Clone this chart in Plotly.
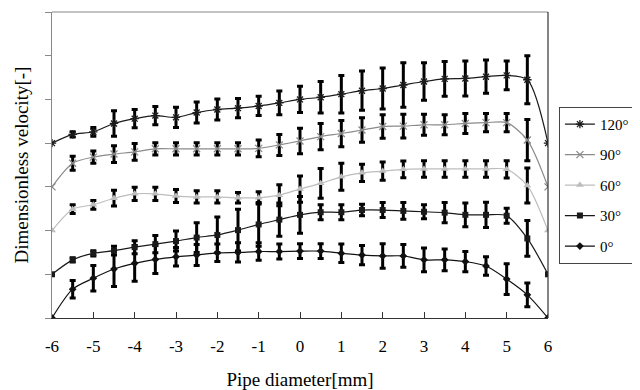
import plotly.graph_objects as go

# Pipe diameter positions [mm]
x_mm = [-6, -5.5, -5, -4.5, -4, -3.5, -3, -2.5, -2, -1.5, -1, -0.5, 0,
        0.5, 1, 1.5, 2, 2.5, 3, 3.5, 4, 4.5, 5, 5.5, 6]
x_ticks = [-6, -5, -4, -3, -2, -1, 0, 1, 2, 3, 4, 5, 6]
x_tick_labels = ["-6", "-5", "-4", "-3", "-2", "-1", "0", "1", "2", "3", "4", "5", "6"]

# Dimensionless velocity (each series offset in the original chart)
v_120 = [4.0, 4.20, 4.26, 4.45, 4.56, 4.63, 4.59, 4.70, 4.77, 4.80, 4.85, 4.92, 5.00,
         5.05, 5.12, 5.20, 5.25, 5.33, 5.41, 5.47, 5.48, 5.52, 5.55, 5.45, 4.0]
v_90 = [3.0, 3.54, 3.68, 3.75, 3.80, 3.87, 3.87, 3.87, 3.87, 3.87, 3.88, 3.96, 4.05,
        4.15, 4.22, 4.30, 4.38, 4.39, 4.42, 4.42, 4.45, 4.47, 4.47, 4.07, 3.0]
v_60 = [2.0, 2.49, 2.59, 2.74, 2.84, 2.84, 2.79, 2.77, 2.77, 2.75, 2.75, 2.81, 2.95,
        3.08, 3.23, 3.32, 3.36, 3.40, 3.41, 3.41, 3.41, 3.41, 3.40, 3.03, 2.0]
v_30 = [1.0, 1.33, 1.48, 1.54, 1.62, 1.69, 1.76, 1.84, 1.90, 2.01, 2.14, 2.25, 2.36,
        2.42, 2.42, 2.47, 2.47, 2.45, 2.43, 2.41, 2.36, 2.36, 2.34, 1.82, 1.0]
v_0 = [0.0, 0.66, 0.91, 1.12, 1.25, 1.34, 1.40, 1.44, 1.49, 1.50, 1.52, 1.52, 1.53,
       1.53, 1.48, 1.44, 1.42, 1.42, 1.33, 1.33, 1.29, 1.19, 0.89, 0.53, 0.0]

# Error bar half-lengths for interior points (x = -5.5 ... 5.5)
e_120 = [0.06, 0.10, 0.29, 0.21, 0.21, 0.23, 0.24, 0.24, 0.22, 0.22, 0.27, 0.30,
         0.36, 0.43, 0.45, 0.47, 0.51, 0.43, 0.40, 0.40, 0.38, 0.33, 0.55]
e_90 = [0.16, 0.14, 0.19, 0.19, 0.14, 0.14, 0.14, 0.14, 0.14, 0.19, 0.24, 0.29,
        0.30, 0.30, 0.28, 0.27, 0.27, 0.24, 0.23, 0.23, 0.21, 0.21, 0.47]
e_60 = [0.10, 0.10, 0.18, 0.15, 0.15, 0.15, 0.14, 0.14, 0.12, 0.14, 0.24, 0.30,
        0.34, 0.31, 0.20, 0.21, 0.19, 0.19, 0.19, 0.19, 0.19, 0.20, 0.40]
e_30 = [0.05, 0.06, 0.10, 0.15, 0.20, 0.23, 0.34, 0.41, 0.48, 0.50, 0.38, 0.42,
        0.17, 0.17, 0.13, 0.17, 0.19, 0.16, 0.23, 0.27, 0.29, 0.17, 0.41]
e_0 = [0.20, 0.29, 0.40, 0.41, 0.32, 0.21, 0.24, 0.20, 0.22, 0.20, 0.17, 0.17,
       0.17, 0.21, 0.22, 0.28, 0.26, 0.27, 0.25, 0.23, 0.21, 0.35, 0.27]

names = ["120°", "90°", "60°", "30°", "0°"]
values = [v_120, v_90, v_60, v_30, v_0]
errors = [e_120, e_90, e_60, e_30, e_0]
colors = ["#1a1a1a", "#8a8a8a", "#bdbdbd", "#1a1a1a", "#111111"]
symbols = ["asterisk-open", "x-thin-open", "triangle-up", "square", "diamond"]
msizes = [7, 7, 7, 6, 6]

FONT = "Liberation Serif, Times New Roman, serif"
fig = go.Figure()

# error bars (interior points only)
for vals, errs in zip(values, errors):
    fig.add_trace(go.Scatter(
        x=x_mm[1:-1], y=vals[1:-1], mode="markers",
        marker=dict(size=1, color="rgba(0,0,0,0)"),
        error_y=dict(type="data", array=errs, visible=True,
                     color="black", thickness=3, width=3),
        showlegend=False, hoverinfo="skip"))

# lines with markers
for i, (nm, vals) in enumerate(zip(names, values)):
    sym = symbols[i]
    if sym.endswith("open"):
        mk = dict(symbol=sym, size=msizes[i], color=colors[i],
                  line=dict(color=colors[i], width=1.3))
    else:
        mk = dict(symbol=sym, size=msizes[i], color=colors[i],
                  line=dict(width=0))
    fig.add_trace(go.Scatter(
        x=x_mm, y=vals, mode="lines+markers", name=nm,
        legendgroup=nm,
        line=dict(color=colors[i], width=1.2, shape="spline", smoothing=0.8),
        marker=mk))

# the page body adds an 8px offset, so the figure is 632x382
fig.update_layout(
    width=632, height=382,
    margin=dict(l=44, r=92, t=4, b=72, autoexpand=False),
    paper_bgcolor="white", plot_bgcolor="white",
    font=dict(family=FONT, size=16, color="black"),
    showlegend=True,
    legend=dict(x=1.022, y=0.69, xanchor="left", yanchor="top",
                bordercolor="#444", borderwidth=1, bgcolor="white",
                font=dict(family=FONT, size=15, color="black"),
                traceorder="grouped", tracegroupgap=8, itemwidth=30),
    xaxis=dict(range=[-6, 6], tickvals=x_ticks, ticktext=x_tick_labels,
               ticks="inside", ticklen=6,
               tickcolor="#333", showline=True, linecolor="#333", linewidth=1.2,
               showgrid=False, zeroline=False, automargin=False,
               ticklabelstandoff=12,
               tickfont=dict(family=FONT, size=17),
               title=dict(text="Pipe diameter[mm]", font=dict(family=FONT, size=19),
                          standoff=18)),
    yaxis=dict(range=[0, 7], dtick=1, ticks="outside", ticklen=6,
               tickcolor="#888", showline=True, linecolor="#888", linewidth=1.2,
               showgrid=False, zeroline=False, showticklabels=False, automargin=False,
               title=dict(text="Dimensionless velocity[-]", font=dict(family=FONT, size=19),
                          standoff=11)),
    shapes=[
        dict(type="line", xref="paper", yref="paper", x0=0, x1=1, y0=1, y1=1,
             line=dict(color="#888", width=1.2)),
        dict(type="line", xref="paper", yref="paper", x0=1, x1=1, y0=0, y1=1,
             line=dict(color="#333", width=1.2)),
    ],
)

fig.write_html("out.html")
